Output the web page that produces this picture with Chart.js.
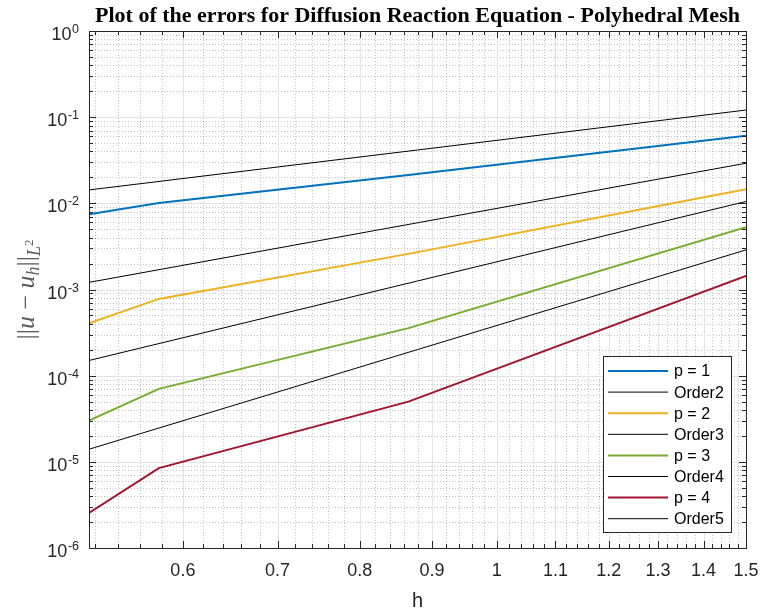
<!DOCTYPE html>
<html lang="en">
<head>
  <meta charset="utf-8">
  <title>Errors - Diffusion Reaction Equation</title>
  <script src="https://cdn.jsdelivr.net/npm/chart.js"></script>
  <style>
    body { margin: 0; background: #fff; }
    #wrap { width: 762px; height: 612px; }
  </style>
</head>
<body>
  <div id="wrap"><canvas id="errChart" width="762" height="612"></canvas></div>
  <script>
    // mesh sizes and L2 errors
    const hVals = [0.515, 0.577, 0.866, 1.5];
    const errP1 = [7.48e-3, 1.01e-2, 2.13e-2, 6.1e-2];
    const errP2 = [4.06e-4, 7.78e-4, 2.59e-3, 1.456e-2];
    const errP3 = [3.01e-5, 7.03e-5, 3.56e-4, 5.28e-3];
    const errP4 = [2.56e-6, 8.45e-6, 5.0e-5, 1.44e-3];

    // reference slopes (end points only, straight in log-log)
    const hRef = [0.515, 1.5];
    const order2 = [1.43e-2, 0.121];
    const order3 = [1.21e-3, 2.92e-2];
    const order4 = [1.50e-4, 1.05e-2];
    const order5 = [1.40e-5, 2.88e-3];

    // tick labels
    const xTickValues = [0.6, 0.7, 0.8, 0.9, 1, 1.1, 1.2, 1.3, 1.4, 1.5];
    const xTickLabels = ['0.6', '0.7', '0.8', '0.9', '1', '1.1', '1.2', '1.3', '1.4', '1.5'];
    const yTickExponents = [-6, -5, -4, -3, -2, -1, 0];

    const textColor = '#262626';

    function pts(xs, ys) {
      return xs.map((v, i) => ({ x: v, y: ys[i] }));
    }

    function series(label, xs, ys, color, width) {
      return {
        label: label,
        data: pts(xs, ys),
        borderColor: color,
        backgroundColor: color,
        borderWidth: width,
        pointRadius: 0,
        showLine: true,
        tension: 0
      };
    }

    // minor grid positions (MATLAB style)
    const xMinor = [];
    for (let i = 26; i <= 75; i++) {
      if (i % 5 !== 0) xMinor.push(i / 50);
    }
    const yMinor = [];
    yTickExponents.slice(0, -1).forEach(e => {
      for (let m = 2; m <= 9; m++) yMinor.push(m * Math.pow(10, e));
    });

    function vline(ctx, px, y0, y1) {
      ctx.beginPath(); ctx.moveTo(px, y0); ctx.lineTo(px, y1); ctx.stroke();
    }
    function hline(ctx, py, x0, x1) {
      ctx.beginPath(); ctx.moveTo(x0, py); ctx.lineTo(x1, py); ctx.stroke();
    }

    const matlabAxes = {
      id: 'matlabAxes',
      beforeDatasetsDraw(chart) {
        const { ctx, chartArea: a, scales: { x, y } } = chart;
        ctx.save();
        ctx.lineWidth = 1;
        // minor grid, dotted
        ctx.strokeStyle = 'rgba(38,38,38,0.28)';
        ctx.setLineDash([1, 2]);
        xMinor.forEach(v => vline(ctx, Math.round(x.getPixelForValue(v)) + 0.5, a.top, a.bottom));
        yMinor.forEach(v => hline(ctx, Math.round(y.getPixelForValue(v)) + 0.5, a.left, a.right));
        // major grid
        ctx.setLineDash([]);
        ctx.strokeStyle = '#e2e2e2';
        xTickValues.forEach(v => vline(ctx, Math.round(x.getPixelForValue(v)) + 0.5, a.top, a.bottom));
        yTickExponents.forEach(e => hline(ctx, Math.round(y.getPixelForValue(Math.pow(10, e))) + 0.5, a.left, a.right));
        ctx.restore();
      },
      afterDatasetsDraw(chart) {
        const { ctx, chartArea: a, scales: { x, y } } = chart;
        ctx.save();
        ctx.strokeStyle = textColor;
        ctx.lineWidth = 1;
        // box
        ctx.strokeRect(Math.round(a.left) + 0.5, Math.round(a.top) + 0.5,
          Math.round(a.right - a.left), Math.round(a.bottom - a.top));
        // tick marks, inward on all four sides
        const tick = (vals, len) => {
          vals.forEach(v => {
            const px = Math.round(x.getPixelForValue(v)) + 0.5;
            vline(ctx, px, a.bottom, a.bottom - len);
            vline(ctx, px, a.top, a.top + len);
          });
        };
        tick(xTickValues, 7);
        tick(xMinor, 4);
        const ytick = (vals, len) => {
          vals.forEach(v => {
            const py = Math.round(y.getPixelForValue(v)) + 0.5;
            hline(ctx, py, a.left, a.left + len);
            hline(ctx, py, a.right, a.right - len);
          });
        };
        ytick(yTickExponents.map(e => Math.pow(10, e)), 7);
        ytick(yMinor, 4);
        ctx.restore();
      },
      afterDraw(chart) {
        const { ctx, chartArea: a, scales: { y } } = chart;
        ctx.save();

        // title
        ctx.fillStyle = '#000';
        ctx.font = 'bold 22px "Liberation Serif", "Times New Roman", serif';
        ctx.textAlign = 'center';
        ctx.textBaseline = 'alphabetic';
        ctx.fillText('Plot of the errors for Diffusion Reaction Equation - Polyhedral Mesh',
          (a.left + a.right) / 2, 22);

        // y tick labels 10^k
        ctx.fillStyle = textColor;
        ctx.textAlign = 'left';
        const right = a.left - 10;
        yTickExponents.forEach(e => {
          const py = y.getPixelForValue(Math.pow(10, e));
          const ex = String(e);
          ctx.font = '12.5px "Liberation Sans", Arial, sans-serif';
          const we = ctx.measureText(ex).width;
          ctx.fillText(ex, right - we, py + 2);
          ctx.font = '18px "Liberation Sans", Arial, sans-serif';
          const w10 = ctx.measureText('10').width;
          ctx.fillText('10', right - we - w10 - 0.5, py + 9);
        });

        // x title
        ctx.font = '20px "Liberation Sans", Arial, sans-serif';
        ctx.textAlign = 'center';
        ctx.fillText('h', (a.left + a.right) / 2, 607);

        // y title ||u - u_h||_{L^2}
        const serif = '"Liberation Serif", "Times New Roman", serif';
        const parts = [
          { t: '||', f: '26px ' + serif, dy: 0 },
          { t: 'u', f: 'italic 26px ' + serif, dy: 0 },
          { t: ' \u2212 ', f: '26px ' + serif, dy: 0 },
          { t: 'u', f: 'italic 26px ' + serif, dy: 0 },
          { t: 'h', f: 'italic 18px ' + serif, dy: 5 },
          { t: '||', f: '26px ' + serif, dy: 0 },
          { t: 'L', f: 'italic 18px ' + serif, dy: 6 },
          { t: '2', f: '13px ' + serif, dy: -1 }
        ];
        let total = 0;
        parts.forEach(p => { ctx.font = p.f; p.w = ctx.measureText(p.t).width; total += p.w; });
        ctx.translate(34, (a.top + a.bottom) / 2);
        ctx.rotate(-Math.PI / 2);
        ctx.fillStyle = '#5a5a5a';
        ctx.textAlign = 'left';
        let cx = -total / 2;
        parts.forEach(p => {
          ctx.font = p.f;
          ctx.fillText(p.t, cx, p.dy);
          cx += p.w;
        });
        ctx.setTransform(1, 0, 0, 1, 0, 0);

        // legend, lower right inside the axes
        const ds = chart.data.datasets;
        const lx = 603, ly = 356, lw = 128, lh = 176;
        ctx.fillStyle = '#fff';
        ctx.fillRect(lx, ly, lw, lh);
        ctx.strokeStyle = textColor;
        ctx.lineWidth = 1;
        ctx.strokeRect(lx + 0.5, ly + 0.5, lw, lh);
        ctx.font = '16px "Liberation Sans", Arial, sans-serif';
        ctx.textAlign = 'left';
        ctx.textBaseline = 'middle';
        ds.forEach((d, i) => {
          const ry = 371 + i * 21.1;
          ctx.strokeStyle = d.borderColor;
          ctx.lineWidth = d.borderWidth;
          hline(ctx, ry, lx + 5, lx + 65);
          ctx.fillStyle = '#000';
          ctx.fillText(d.label, lx + 71, ry + 1);
        });
        ctx.restore();
      }
    };

    new Chart(document.getElementById('errChart'), {
      type: 'scatter',
      data: {
        datasets: [
          series('p = 1', hVals, errP1, '#0072BD', 2),
          series('Order2', hRef, order2, '#000000', 1),
          series('p = 2', hVals, errP2, '#EDB120', 2),
          series('Order3', hRef, order3, '#000000', 1),
          series('p = 3', hVals, errP3, '#77AC30', 2),
          series('Order4', hRef, order4, '#000000', 1),
          series('p = 4', hVals, errP4, '#A2142F', 2),
          series('Order5', hRef, order5, '#000000', 1)
        ]
      },
      options: {
        responsive: false,
        animation: false,
        layout: { padding: { left: 0, right: 16, top: 31, bottom: 0 } },
        plugins: {
          legend: { display: false },
          title: { display: false },
          tooltip: { enabled: false }
        },
        scales: {
          x: {
            type: 'logarithmic',
            min: 0.515,
            max: 1.5,
            grid: { display: false, drawTicks: false },
            border: { display: false },
            afterBuildTicks: s => { s.ticks = xTickValues.map(v => ({ value: v })); },
            afterFit: s => { s.height = 64; s.paddingLeft = 0; s.paddingRight = 0; },
            ticks: {
              autoSkip: false,
              maxRotation: 0,
              padding: 12,
              color: textColor,
              font: { family: '"Liberation Sans", Arial, sans-serif', size: 18 },
              callback: (v, i) => xTickLabels[i]
            }
          },
          y: {
            type: 'logarithmic',
            min: 1e-6,
            max: 1,
            grid: { display: false, drawTicks: false },
            border: { display: false },
            afterBuildTicks: s => { s.ticks = yTickExponents.map(e => ({ value: Math.pow(10, e) })); },
            afterFit: s => { s.width = 89; },
            ticks: { display: false }
          }
        }
      },
      plugins: [matlabAxes]
    });
  </script>
</body>
</html>
